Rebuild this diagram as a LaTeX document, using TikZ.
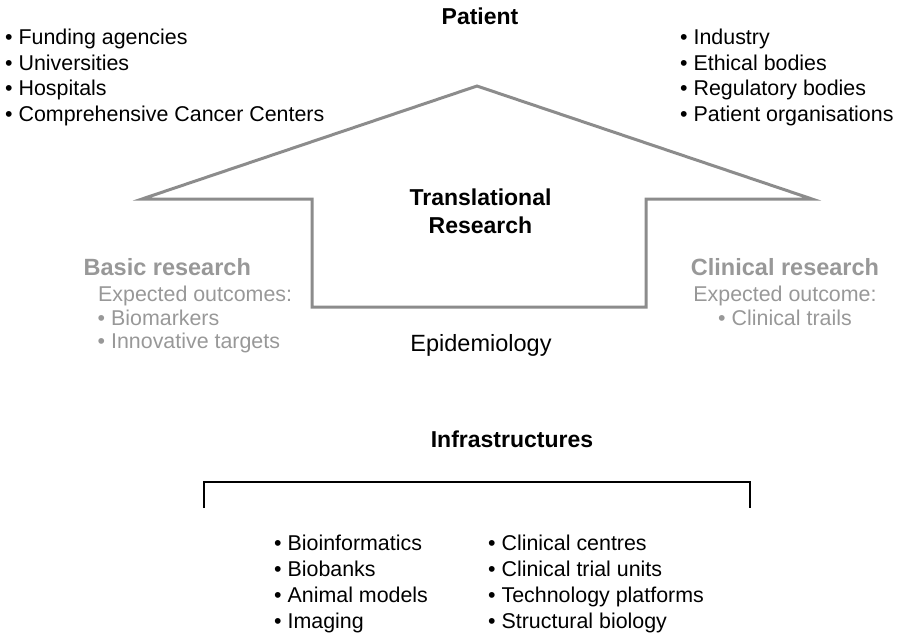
\documentclass[tikz,border=0pt]{standalone}
\usepackage{fontspec}
\setmainfont{Liberation Sans}
\definecolor{arrowgray}{HTML}{8C8C8C}
\definecolor{softgray}{HTML}{989898}
\begin{document}
\begin{tikzpicture}[x=1pt,y=-1pt,
  item/.style={anchor=base west,inner sep=0pt,font=\fontsize{21.4}{25}\selectfont},
  citem/.style={anchor=base,inner sep=0pt,font=\fontsize{21.4}{25}\selectfont},
  head/.style={anchor=base,inner sep=0pt,font=\fontsize{23}{28}\selectfont\bfseries},
  outline/.style={draw=arrowgray,line width=3pt,line join=miter},
  bracket/.style={draw=black,line width=2.5pt}]
\useasboundingbox (0,0) rectangle (898,633);

% top title
\node[head] (patient) at (480,24) {Patient};

% stakeholders on the left
\node[item] (fund) at (5,44.5) {• Funding agencies};
\node[item] (univ) at (5,70) {• Universities};
\node[item] (hosp) at (5,95.5) {• Hospitals};
\node[item] (ccc)  at (5,121) {• Comprehensive Cancer Centers};

% stakeholders on the right
\node[item] (ind) at (680,44.5) {• Industry};
\node[item] (eth) at (680,70) {• Ethical bodies};
\node[item] (reg) at (680,95.5) {• Regulatory bodies};
\node[item] (porg) at (680,121) {• Patient organisations};

% the big upward arrow
\coordinate (wl) at (142,199);
\coordinate (apex) at (477,86);
\coordinate (wr) at (812,199);
\coordinate (sr) at (646,199);
\coordinate (br) at (646,307);
\coordinate (bl) at (312,307);
\coordinate (sl) at (312,199);
\draw[outline] (wl) -- (apex) -- (wr) -- (sr) -- (br) -- (bl) -- (sl) -- cycle;

\node[head] (tr1) at (480.5,205) {Translational};
\node[head] (tr2) at (480.5,233) {Research};
\node[anchor=base,inner sep=0pt,font=\fontsize{23.5}{28}\selectfont] (epi) at (481,351) {Epidemiology};

% basic research side
\node[head,anchor=base west,text=softgray,font=\fontsize{23.5}{28}\selectfont\bfseries] (basic) at (83.5,275) {Basic research};
\node[item,text=softgray] (bexp) at (98,301) {Expected outcomes:};
\node[item,text=softgray] (bio) at (97.5,325) {• Biomarkers};
\node[item,text=softgray] (inno) at (97.5,348) {• Innovative targets};

% clinical research side
\node[head,text=softgray,font=\fontsize{23.5}{28}\selectfont\bfseries] (clin) at (785,275) {Clinical research};
\node[citem,text=softgray] (cexp) at (785,301) {Expected outcome:};
\node[citem,text=softgray] (ctr) at (785,325) {• Clinical trails};

% infrastructures
\node[head] (infra) at (512,447) {Infrastructures};
\coordinate (bkl) at (204,508);
\coordinate (bkr) at (750,508);
\draw[bracket] (bkl) |- (477,482) -| (bkr);

\node[item] (binf) at (274,550) {• Bioinformatics};
\node[item] (bbank) at (274,576) {• Biobanks};
\node[item] (anim) at (274,602) {• Animal models};
\node[item] (imag) at (274,628) {• Imaging};

\node[item] (ccen) at (488,550) {• Clinical centres};
\node[item] (ctu) at (488,576) {• Clinical trial units};
\node[item] (tech) at (488,602) {• Technology platforms};
\node[item] (sbio) at (488,628) {• Structural biology};
\end{tikzpicture}
\end{document}
